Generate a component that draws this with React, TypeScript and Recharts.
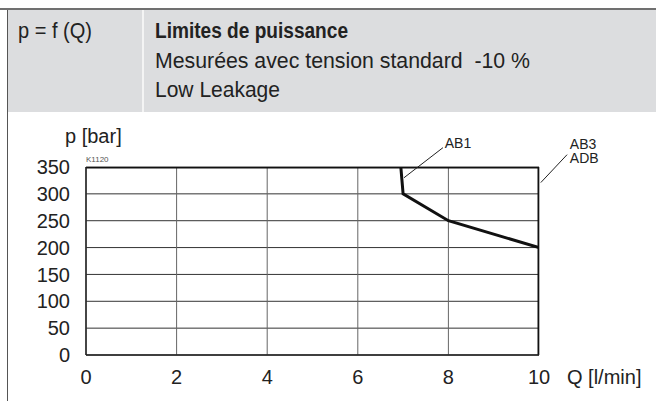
import React from 'react';
import { LineChart, Line, XAxis, YAxis, CartesianGrid, ReferenceLine, ReferenceDot, Label } from 'recharts';

// Axis ticks
const qTicks = [0, 2, 4, 6, 8, 10];
const pTicks = [0, 50, 100, 150, 200, 250, 300, 350];

// AB3 / ADB envelope
const envQ = [0, 10, 10];
const envP = [350, 350, 0];

// AB1 curve
const ab1Q = [6.95, 7, 8, 10];
const ab1P = [350, 300, 250, 200];

// Annotation texts / leader lines (data coordinates)
const ab1Leader = [{ x: 7.02, y: 330 }, { x: 7.88, y: 386 }];
const ab3Leader = [{ x: 10.04, y: 321 }, { x: 10.62, y: 373 }];
const annotations = [
  { text: 'AB1', q: 7.92, p: 395 },
  { text: 'AB3', q: 10.68, p: 393 },
  { text: 'ADB', q: 10.68, p: 366 },
];

const envData = envQ.map((q, i) => ({ q, p: envP[i] }));
const ab1Data = ab1Q.map((q, i) => ({ q, p: ab1P[i] }));

const ARIAL = "'Liberation Sans', Arial, sans-serif";

const annText = (text: string) => (props: any) => {
  const vb = props.viewBox || {};
  return (
    <text x={vb.x} y={vb.y} dominantBaseline="central" fontSize={14} fontFamily={ARIAL} fill="#222">
      {text}
    </text>
  );
};

export default function App() {
  return (
    <div style={{ position: 'absolute', left: 0, top: 0, width: 656, height: 401, background: '#fff', overflow: 'hidden' }}>
      <svg width={656} height={112} style={{ position: 'absolute', left: 0, top: 0 }}>
        <rect x={7} y={10} width={649} height={102} fill="#dcdddf" />
        <rect x={0} y={8} width={656} height={2} fill="#707070" />
        <rect x={142} y={10} width={2} height={102} fill="#f4f4f4" />
        <text x={18} y={38} fontSize={22} fontFamily={ARIAL} fill="#222" textLength={74} lengthAdjust="spacingAndGlyphs">p = f (Q)</text>
        <text x={155} y={38} fontSize={22} fontFamily={ARIAL} fontWeight="bold" fill="#222" textLength={193} lengthAdjust="spacingAndGlyphs">Limites de puissance</text>
        <text x={155} y={68} fontSize={22} fontFamily={ARIAL} fill="#222" textLength={375} lengthAdjust="spacingAndGlyphs" style={{ whiteSpace: 'pre' }}>Mesurées avec tension standard  -10 %</text>
        <text x={155} y={97} fontSize={22} fontFamily={ARIAL} fill="#222" textLength={125} lengthAdjust="spacingAndGlyphs">Low Leakage</text>
      </svg>
      <div style={{ position: 'absolute', left: 7, top: 10, width: 1, height: 391, background: '#555' }} />
      <div style={{ position: 'absolute', left: 0, top: 112 }}>
        <LineChart width={656} height={289} margin={{ top: 55, right: 117, bottom: 16, left: 0 }}>
          <CartesianGrid stroke="#333" strokeWidth={1} vertical={false} />
          <CartesianGrid stroke="#666" strokeWidth={1} horizontal={false} />
          <XAxis
            type="number"
            dataKey="q"
            domain={[0, 10]}
            ticks={qTicks}
            interval={0}
            allowDataOverflow
            height={30}
            tickSize={0}
            tickMargin={15}
            axisLine={{ stroke: '#222', strokeWidth: 1.5 }}
            tick={{ fill: '#222', fontSize: 20, fontFamily: ARIAL }}
            label={
              <Label
                content={(props: any) => {
                  const vb = props.viewBox || {};
                  return (
                    <text x={vb.x + vb.width + 28} y={vb.y + 29} fontSize={20} fontFamily={ARIAL} fill="#222">
                      Q [l/min]
                    </text>
                  );
                }}
              />
            }
          />
          <YAxis
            type="number"
            dataKey="p"
            domain={[0, 350]}
            ticks={pTicks}
            interval={0}
            allowDataOverflow
            width={86}
            tickSize={0}
            tickMargin={16}
            axisLine={{ stroke: '#222', strokeWidth: 1.5 }}
            tick={{ fill: '#222', fontSize: 20, fontFamily: ARIAL }}
            label={
              <Label
                content={(props: any) => {
                  const vb = props.viewBox || {};
                  return (
                    <g>
                      <text x={vb.x + 65} y={vb.y - 24} fontSize={20} fontFamily={ARIAL} fill="#222">
                        p [bar]
                      </text>
                      <text x={vb.x + vb.width} y={vb.y - 5} fontSize={8} fontFamily={ARIAL} fill="#555">
                        K1120
                      </text>
                    </g>
                  );
                }}
              />
            }
          />
          <Line data={ab1Data} dataKey="p" type="linear" stroke="#111" strokeWidth={3} dot={false} isAnimationActive={false} />
          <Line data={envData} dataKey="p" type="linear" stroke="#111" strokeWidth={3} dot={false} isAnimationActive={false} />
          <ReferenceLine segment={ab1Leader} stroke="#222" strokeWidth={1} ifOverflow="visible" />
          <ReferenceLine segment={ab3Leader} stroke="#222" strokeWidth={1} ifOverflow="visible" />
          {annotations.map((a) => (
            <ReferenceDot key={a.text} x={a.q} y={a.p} r={0} fill="none" stroke="none" ifOverflow="visible" label={annText(a.text)} />
          ))}
        </LineChart>
      </div>
    </div>
  );
}
